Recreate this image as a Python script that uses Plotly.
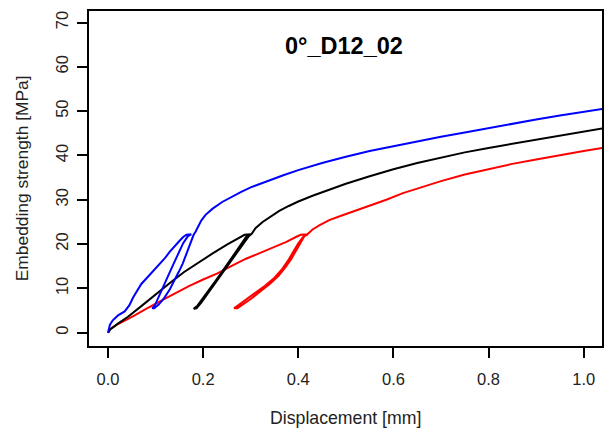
import plotly.graph_objects as go

# Blue specimen curve (loading, unloading, reloading, envelope)
blue_x = [0, 0.004, 0.01, 0.021, 0.035, 0.045, 0.053, 0.062, 0.07, 0.082, 0.095, 0.108, 0.12, 0.13, 0.14, 0.15, 0.158, 0.165, 0.175,
          0.168, 0.158, 0.148, 0.138, 0.128, 0.118, 0.108, 0.099, 0.093,
          0.097, 0.106, 0.118, 0.13, 0.14, 0.149, 0.157, 0.164, 0.17, 0.175, 0.18, 0.184,
          0.189, 0.196, 0.205, 0.22, 0.24, 0.26, 0.28, 0.3, 0.333, 0.37, 0.4, 0.45, 0.5, 0.55, 0.6, 0.65, 0.7, 0.75, 0.8, 0.85, 0.9, 0.95, 1.0, 1.045]
blue_y = [0, 1.8, 2.8, 3.9, 4.8, 6.2, 8.0, 9.6, 11.0, 12.4, 13.9, 15.4, 16.9, 18.3, 19.6, 20.7, 21.6, 22.1, 22.2,
          21.8, 20.2, 18.0, 15.6, 13.2, 10.7, 8.3, 6.3, 5.5,
          5.5, 6.3, 7.8, 9.8, 11.8, 13.8, 15.6, 17.6, 19.6, 21.1, 22.1, 22.8,
          24.0, 25.3, 26.6, 28.0, 29.5, 30.7, 31.8, 32.8, 34.2, 35.6, 36.7, 38.3, 39.7, 41.0, 42.1, 43.2, 44.2, 45.2, 46.2, 47.2, 48.1, 49.0, 49.8, 50.6]

# Black specimen curve
black_x = [0, 0.005, 0.02, 0.042, 0.07, 0.1, 0.13, 0.16, 0.19, 0.22, 0.25, 0.275, 0.287, 0.3,
           0.29, 0.275, 0.26, 0.245, 0.23, 0.215, 0.2, 0.188, 0.18,
           0.186, 0.196, 0.21, 0.225, 0.24, 0.255, 0.27, 0.285, 0.296, 0.302,
           0.31, 0.325, 0.34, 0.36, 0.38, 0.4, 0.43, 0.46, 0.5, 0.55, 0.6, 0.65, 0.7, 0.75, 0.8, 0.85, 0.9, 0.95, 1.0, 1.045]
black_y = [0, 0.8, 2.0, 3.6, 6.0, 8.7, 11.2, 13.7, 15.9, 17.9, 19.9, 21.4, 22.1, 22.2,
           21.6, 19.2, 17.0, 14.6, 12.3, 10.1, 7.9, 6.1, 5.4,
           5.5, 6.8, 8.9, 11.1, 13.4, 15.7, 18.0, 20.3, 21.8, 22.3,
           23.6, 25.0, 26.1, 27.5, 28.6, 29.6, 30.9, 32.1, 33.6, 35.3, 36.9, 38.3, 39.5, 40.7, 41.7, 42.6, 43.6, 44.4, 45.3, 46.2]

# Red specimen curve
red_x = [0, 0.005, 0.02, 0.04, 0.056, 0.08, 0.1, 0.12, 0.14, 0.17, 0.2, 0.23, 0.26, 0.29, 0.32, 0.35, 0.375, 0.395, 0.405, 0.42,
         0.41, 0.4, 0.39, 0.378, 0.365, 0.35, 0.33, 0.31, 0.29, 0.275, 0.265,
         0.272, 0.285, 0.3, 0.32, 0.34, 0.358, 0.372, 0.385, 0.396, 0.405, 0.413, 0.42,
         0.43, 0.445, 0.465, 0.49, 0.52, 0.55, 0.585, 0.62, 0.66, 0.7, 0.75, 0.8, 0.85, 0.9, 0.95, 1.0, 1.045]
red_y = [0, 0.8, 1.9, 3.0, 3.9, 5.4, 6.6, 7.7, 8.8, 10.5, 12.0, 13.4, 15.1, 16.7, 18.0, 19.3, 20.5, 21.6, 22.1, 22.2,
         21.6, 20.2, 18.4, 16.2, 14.2, 12.4, 10.6, 9.0, 7.4, 6.2, 5.5,
         5.5, 6.4, 7.6, 9.3, 11.0, 12.8, 14.6, 16.6, 18.6, 20.4, 21.8, 22.3,
         23.3, 24.3, 25.4, 26.4, 27.5, 28.6, 30.0, 31.5, 32.9, 34.2, 35.7, 36.9, 38.1, 39.1, 40.1, 41.0, 41.8]

x_ticks = [0.0, 0.2, 0.4, 0.6, 0.8, 1.0]
x_tick_labels = ["0.0", "0.2", "0.4", "0.6", "0.8", "1.0"]
y_ticks = [0, 10, 20, 30, 40, 50, 60, 70]
y_tick_labels = ["0", "10", "20", "30", "40", "50", "60", "70"]

FONT = "Liberation Sans, Arial, sans-serif"

fig = go.Figure()
for xs, ys, col in [(red_x, red_y, "#ff0000"), (black_x, black_y, "#000000"), (blue_x, blue_y, "#0000ff")]:
    fig.add_trace(go.Scatter(x=xs, y=ys, mode="lines", line=dict(color=col, width=2),
                             showlegend=False, hoverinfo="skip"))

axis_common = dict(showline=True, linecolor="black", linewidth=1.5, mirror=True,
                   ticks="outside", ticklen=10, tickwidth=1.5, tickcolor="black",
                   showgrid=False, zeroline=False, automargin=False,
                   tickfont=dict(family=FONT, size=16.5, color="#222222"))

# The page body adds an 8px offset, so the figure is sized to fill the rest of the window.
fig.update_layout(
    width=607, height=425,
    margin=dict(l=81, r=13, t=3, b=87, autoexpand=False),
    paper_bgcolor="white", plot_bgcolor="white",
    xaxis=dict(range=[-0.04, 1.0385], tickvals=x_ticks, ticktext=x_tick_labels,
               ticklabelstandoff=7, **axis_common),
    yaxis=dict(range=[-3.0, 72.6], tickvals=y_ticks, ticktext=y_tick_labels,
               tickangle=-90, ticklabelstandoff=3, **axis_common),
    annotations=[
        dict(text="<b>0°_D12_02</b>", x=0.498, y=0.897, xref="paper", yref="paper",
             xanchor="center", yanchor="middle", showarrow=False,
             font=dict(family=FONT, size=23.5, color="black")),
        dict(text="Displacement [mm]", x=0.5, y=-0.216, xref="paper", yref="paper",
             xanchor="center", yanchor="middle", showarrow=False,
             font=dict(family=FONT, size=17.7, color="#222222")),
        dict(text="Embedding strength [MPa]", x=-0.131, y=0.5, xref="paper", yref="paper",
             xanchor="center", yanchor="middle", showarrow=False, textangle=-90,
             font=dict(family=FONT, size=17.4, color="#222222")),
    ],
)

fig.write_html("out.html")
